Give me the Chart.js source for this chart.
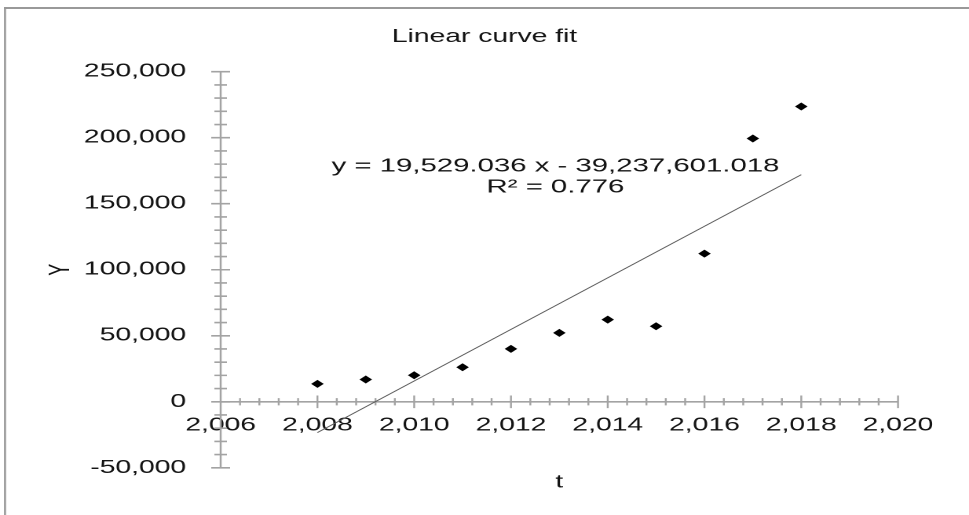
<!DOCTYPE html>
<html>
<head>
<meta charset="utf-8">
<title>Linear curve fit</title>
<script src="https://cdn.jsdelivr.net/npm/chart.js@4.4.1/dist/chart.umd.min.js"></script>
<style>
  html, body { margin: 0; padding: 0; background: #fff; overflow: hidden; }
  /* the chart is laid out on a narrow canvas and widened horizontally */
  #wrap { position: absolute; left: 0; top: 0; width: 617px; height: 515px;
          transform: scaleX(1.5705); transform-origin: 0 0; }
</style>
</head>
<body>
<div id="wrap"><canvas id="chart"></canvas></div>
<script>
// observations: year t and value Y
const years  = [2008, 2009, 2010, 2011, 2012, 2013, 2014, 2015, 2016, 2017, 2018];
const values = [13600, 16900, 20100, 26200, 40100, 52200, 62200, 57200, 112200, 199400, 223600];

// axis tick labels
const xTicks = [2006, 2008, 2010, 2012, 2014, 2016, 2018, 2020];
const yTicks = [-50000, 0, 50000, 100000, 150000, 200000, 250000];

// least-squares fit reported on the chart
const fitSlope = 19529.036;
const fitIntercept = -39237601.018;
const fitR2 = 0.776;
const fitRange = [2008, 2018];

const FONT = '"Liberation Sans", Arial, Helvetica, sans-serif';
const TEXT = '#141414';
const AXIS = '#a3a3a3';

const fmt = (v, d) => v.toLocaleString('en-US', { minimumFractionDigits: d, maximumFractionDigits: d });

const fitPoints = fitRange.map(t => ({ x: t, y: fitSlope * t + fitIntercept }));

// axis lines with ticks that cross them, plus the outer frame and the fit label
const axesPlugin = {
  id: 'crossAxes',
  beforeDraw(chart) {
    const { ctx, width, height } = chart;
    ctx.save();
    ctx.fillStyle = '#fff';
    ctx.fillRect(0, 0, width, height);
    ctx.strokeStyle = '#999';
    ctx.lineWidth = 2;
    ctx.beginPath();
    ctx.moveTo(2.5, 8); ctx.lineTo(width, 8);
    ctx.stroke();
    ctx.lineWidth = 1.3;
    ctx.beginPath();
    ctx.moveTo(3.2, 7); ctx.lineTo(3.2, height);
    ctx.stroke();
    ctx.restore();
  },
  beforeDatasetsDraw(chart) {
    const { ctx } = chart;
    const xs = chart.scales.x, ys = chart.scales.y;
    const x0 = xs.getPixelForValue(xTicks[0]);
    const x1 = xs.getPixelForValue(xTicks[xTicks.length - 1]);
    const yTop = ys.getPixelForValue(yTicks[yTicks.length - 1]);
    const yBot = ys.getPixelForValue(yTicks[0]);
    const yZero = ys.getPixelForValue(0);
    ctx.save();
    ctx.strokeStyle = AXIS;

    // vertical axis and its horizontal ticks
    ctx.lineWidth = 1.25;
    ctx.beginPath();
    ctx.moveTo(x0, yTop); ctx.lineTo(x0, yBot);
    ctx.stroke();
    ctx.lineWidth = 1.6;
    ctx.beginPath();
    for (let v = yTicks[0]; v <= yTicks[yTicks.length - 1] + 1; v += 10000) {
      const major = yTicks.includes(v);
      const half = major ? 6 : 4;
      const py = ys.getPixelForValue(v);
      ctx.moveTo(x0 - half, py); ctx.lineTo(x0 + half, py);
    }
    ctx.stroke();

    // horizontal axis at Y = 0 and its vertical ticks
    ctx.lineWidth = 1.6;
    ctx.beginPath();
    ctx.moveTo(x0, yZero); ctx.lineTo(x1, yZero);
    ctx.stroke();
    ctx.lineWidth = 1.2;
    ctx.beginPath();
    for (let i = 1; i <= 35; i++) {
      const v = xTicks[0] + i * 0.4;
      const major = i % 5 === 0;
      const half = major ? 6.3 : 3.6;
      const px = xs.getPixelForValue(v);
      ctx.moveTo(px, yZero - half); ctx.lineTo(px, yZero + half);
    }
    ctx.stroke();
    ctx.restore();
  },
  afterDatasetsDraw(chart) {
    const { ctx } = chart;
    const xs = chart.scales.x, ys = chart.scales.y;
    const cx = xs.getPixelForValue(2012.92);
    const cy = ys.getPixelForValue(178500);
    ctx.save();
    ctx.font = '18.7px ' + FONT;
    ctx.fillStyle = TEXT;
    ctx.textAlign = 'center';
    ctx.textBaseline = 'middle';
    const sign = fitIntercept < 0 ? '-' : '+';
    ctx.fillText('y = ' + fmt(fitSlope, 3) + ' x ' + sign + ' ' + fmt(Math.abs(fitIntercept), 3), cx, cy);
    ctx.fillText('R\u00B2 = ' + fitR2.toFixed(3), cx, cy + 21);
    ctx.restore();
  }
};

new Chart(document.getElementById('chart'), {
  type: 'scatter',
  data: {
    datasets: [
      {
        label: 'Y',
        data: years.map((t, i) => ({ x: t, y: values[i] })),
        pointStyle: 'rectRot',
        pointRadius: 4,
        backgroundColor: '#000',
        borderColor: '#000',
        borderWidth: 0,
        order: 1
      },
      {
        label: 'Linear fit',
        data: fitPoints,
        showLine: true,
        pointRadius: 0,
        borderColor: '#5a5a5a',
        borderWidth: 0.9,
        fill: false,
        order: 2
      }
    ]
  },
  plugins: [axesPlugin],
  options: {
    responsive: true,
    maintainAspectRatio: false,
    devicePixelRatio: 2,
    animation: false,
    events: [],
    layout: { padding: { left: 0, right: 0, top: 0, bottom: 47.2 } },
    plugins: {
      legend: { display: false },
      tooltip: { enabled: false },
      title: {
        display: true,
        text: 'Linear curve fit',
        color: TEXT,
        font: { family: FONT, size: 18, weight: 'normal' },
        padding: { top: 26.2, bottom: 23.9 }
      }
    },
    scales: {
      x: {
        type: 'linear',
        position: { y: 0 },
        min: xTicks[0],
        max: xTicks[xTicks.length - 1],
        grid: { display: false, drawTicks: false },
        border: { display: false },
        afterBuildTicks: s => { s.ticks = xTicks.map(v => ({ value: v })); },
        afterFit: s => { s.height = 91.5; s.paddingRight = 45.2; },
        ticks: {
          autoSkip: false,
          maxRotation: 0,
          padding: 13,
          color: TEXT,
          font: { family: FONT, size: 18 },
          callback: v => fmt(v, 0)
        },
        title: {
          display: true,
          text: 't',
          color: TEXT,
          font: { family: FONT, size: 18 },
          padding: 0
        }
      },
      y: {
        type: 'linear',
        position: 'left',
        min: yTicks[0],
        max: yTicks[yTicks.length - 1],
        grid: { display: false, drawTicks: false },
        border: { display: false },
        afterBuildTicks: s => { s.ticks = yTicks.map(v => ({ value: v })); },
        afterFit: s => { s.width = 140.5; },
        ticks: {
          padding: 22,
          color: TEXT,
          font: { family: FONT, size: 18 },
          callback: v => fmt(v, 0)
        },
        title: {
          display: true,
          text: 'Y',
          color: TEXT,
          font: { family: FONT, size: 18 },
          padding: { top: 28.4, bottom: 0 }
        }
      }
    }
  }
});
</script>
</body>
</html>
